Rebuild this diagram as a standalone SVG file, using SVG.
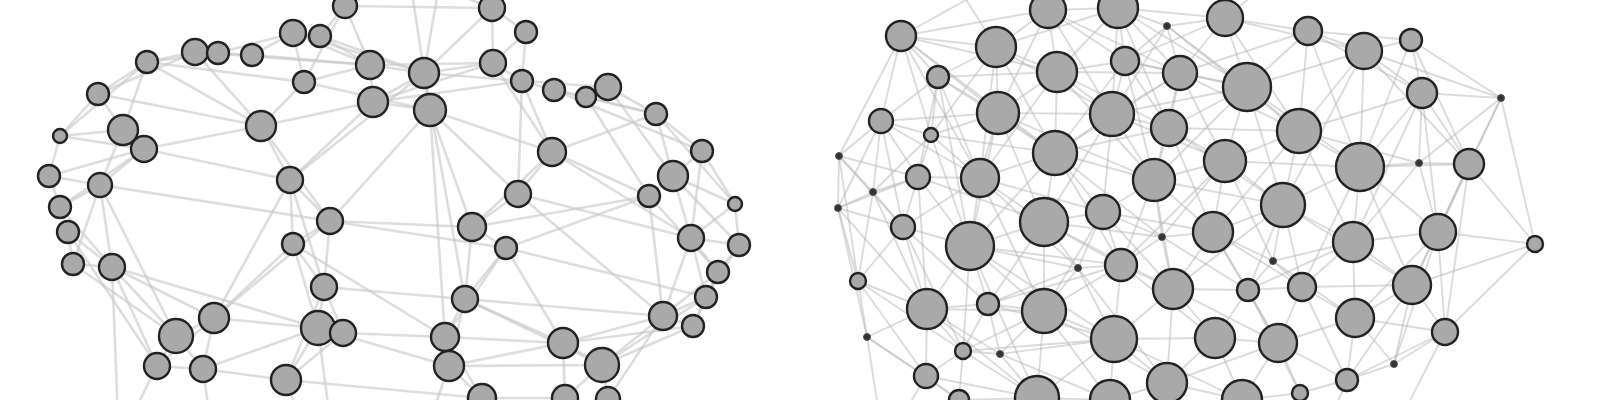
<svg xmlns="http://www.w3.org/2000/svg" width="1600" height="400" viewBox="0 0 1600 400">
<style>
.eL path{stroke:#c8c8c8;stroke-width:2.6;stroke-opacity:.62;fill:none}
.eR path{stroke:#b8b8b8;stroke-width:1.9;stroke-opacity:.5;fill:none}
.n{fill:#a9a9a9;stroke:#222;stroke-width:2.4}
.t{fill:#333;stroke:#555;stroke-width:1}
</style>
<rect width="1600" height="400" fill="#fff"/>
<g id="connectors">
<g class="eL">
<path d="M60 136L98 94"/><path d="M98 94L147 62"/><path d="M147 62L195 52"/><path d="M195 52L218 53"/><path d="M218 53L252 55"/><path d="M252 55L293 33"/><path d="M293 33L320 36"/><path d="M320 36L345 6"/><path d="M252 55L370 65"/><path d="M195 52L370 65"/><path d="M370 65L424 73"/><path d="M424 73L493 63"/><path d="M493 63L522 81"/><path d="M522 81L554 90"/><path d="M554 90L586 97"/><path d="M586 97L608 87"/><path d="M608 87L656 114"/><path d="M656 114L702 151"/><path d="M702 151L735 204"/><path d="M735 204L739 245"/><path d="M739 245L718 272"/><path d="M718 272L706 297"/><path d="M706 297L693 326"/><path d="M693 326L663 316"/><path d="M663 316L602 365"/><path d="M602 365L563 343"/><path d="M602 365L608 399"/><path d="M563 343L565 398"/><path d="M565 398L482 398"/><path d="M482 398L449 366"/><path d="M449 366L445 337"/><path d="M445 337L465 299"/><path d="M465 299L506 248"/><path d="M506 248L472 227"/><path d="M472 227L518 194"/><path d="M518 194L552 152"/><path d="M552 152L522 81"/><path d="M493 63L492 8"/><path d="M492 8L526 32"/><path d="M526 32L522 81"/><path d="M345 6L492 8"/><path d="M345 6L370 65"/><path d="M320 36L370 65"/><path d="M304 82L293 33"/><path d="M304 82L261 126"/><path d="M261 126L290 180"/><path d="M290 180L330 221"/><path d="M330 221L293 244"/><path d="M293 244L324 287"/><path d="M324 287L318 328"/><path d="M318 328L343 333"/><path d="M318 328L286 380"/><path d="M343 333L286 380"/><path d="M373 102L370 65"/><path d="M373 102L424 73"/><path d="M430 110L424 73"/><path d="M430 110L373 102"/><path d="M60 136L49 176"/><path d="M49 176L60 207"/><path d="M60 207L68 232"/><path d="M68 232L73 264"/><path d="M73 264L112 267"/><path d="M112 267L176 336"/><path d="M176 336L214 318"/><path d="M176 336L157 366"/><path d="M157 366L203 369"/><path d="M203 369L214 318"/><path d="M123 130L144 149"/><path d="M123 130L98 94"/><path d="M123 130L60 136"/><path d="M144 149L100 185"/><path d="M100 185L49 176"/><path d="M100 185L60 207"/><path d="M144 149L261 126"/><path d="M147 62L123 130"/><path d="M147 62L304 82"/><path d="M195 52L261 126"/><path d="M112 267L214 318"/><path d="M112 267L318 328"/><path d="M73 264L176 336"/><path d="M68 232L157 366"/><path d="M100 185L330 221"/><path d="M144 149L290 180"/><path d="M214 318L318 328"/><path d="M203 369L286 380"/><path d="M214 318L293 244"/><path d="M214 318L290 180"/><path d="M286 380L324 287"/><path d="M330 221L472 227"/><path d="M324 287L465 299"/><path d="M343 333L445 337"/><path d="M318 328L449 366"/><path d="M286 380L482 398"/><path d="M293 244L445 337"/><path d="M330 221L430 110"/><path d="M290 180L424 73"/><path d="M373 102L290 180"/><path d="M430 110L472 227"/><path d="M430 110L445 337"/><path d="M424 73L465 299"/><path d="M522 81L518 194"/><path d="M493 63L552 152"/><path d="M552 152L649 196"/><path d="M649 196L673 176"/><path d="M673 176L702 151"/><path d="M673 176L691 238"/><path d="M691 238L739 245"/><path d="M691 238L718 272"/><path d="M649 196L663 316"/><path d="M656 114L673 176"/><path d="M608 87L673 176"/><path d="M586 97L649 196"/><path d="M554 90L702 151"/><path d="M506 248L563 343"/><path d="M465 299L563 343"/><path d="M472 227L649 196"/><path d="M518 194L691 238"/><path d="M506 248L706 297"/><path d="M465 299L663 316"/><path d="M563 343L693 326"/><path d="M602 365L706 297"/><path d="M445 337L563 343"/><path d="M449 366L602 365"/><path d="M482 398L445 337"/><path d="M565 398L602 365"/><path d="M608 399L663 316"/><path d="M718 272L663 316"/><path d="M691 238L706 297"/><path d="M735 204L691 238"/><path d="M552 152L691 238"/><path d="M345 6L304 82"/><path d="M320 36L424 73"/><path d="M492 8L424 73"/><path d="M526 32L493 63"/><path d="M370 65L493 63"/><path d="M373 102L522 81"/><path d="M430 110L552 152"/><path d="M261 126L373 102"/><path d="M304 82L370 65"/><path d="M293 33L370 65"/><path d="M218 53L293 33"/><path d="M147 62L218 53"/><path d="M98 94L195 52"/><path d="M60 136L144 149"/><path d="M49 176L144 149"/><path d="M60 207L112 267"/><path d="M68 232L112 267"/><path d="M100 185L112 267"/><path d="M176 336L203 369"/><path d="M157 366L214 318"/><path d="M293 244L318 328"/><path d="M330 221L324 287"/><path d="M290 180L293 244"/><path d="M324 287L343 333"/><path d="M330 221L506 248"/><path d="M465 299L449 366"/><path d="M449 366L563 343"/><path d="M506 248L445 337"/><path d="M472 227L465 299"/><path d="M522 81L608 87"/><path d="M554 90L656 114"/><path d="M586 97L656 114"/><path d="M552 152L656 114"/><path d="M673 176L735 204"/><path d="M739 245L706 297"/><path d="M718 272L693 326"/><path d="M663 316L706 297"/><path d="M60 136L147 62"/><path d="M147 62L261 126"/><path d="M123 130L100 185"/>
<path d="M98 94L261 126"/><path d="M60 207L144 149"/><path d="M73 264L100 185"/><path d="M176 336L100 185"/><path d="M157 366L112 267"/><path d="M203 369L318 328"/><path d="M214 318L330 221"/><path d="M290 180L324 287"/><path d="M261 126L330 221"/><path d="M304 82L430 110"/><path d="M293 33L424 73"/><path d="M373 102L493 63"/><path d="M424 73L522 81"/><path d="M430 110L518 194"/><path d="M472 227L552 152"/><path d="M506 248L649 196"/><path d="M518 194L663 316"/><path d="M563 343L663 316"/><path d="M602 365L693 326"/><path d="M465 299L602 365"/><path d="M691 238L663 316"/><path d="M649 196L718 272"/><path d="M673 176L739 245"/><path d="M702 151L691 238"/><path d="M656 114L735 204"/>
<path d="M157 366L130 420"/><path d="M203 369L210 420"/><path d="M286 380L300 420"/><path d="M482 398L470 420"/><path d="M608 399L640 420"/><path d="M112 267L118 420"/><path d="M318 328L330 420"/><path d="M449 366L430 420"/><path d="M565 398L560 420"/><path d="M345 6L300 -20"/><path d="M345 6L400 -20"/><path d="M492 8L470 -20"/><path d="M492 8L420 -20"/><path d="M430 110L410 -20"/><path d="M424 73L440 -20"/>
</g>
<g class="eR">
<path d="M901 36L996 47"/><path d="M901 36L938 77"/><path d="M901 36L881 121"/><path d="M901 36L998 113"/><path d="M901 36L1048 10"/><path d="M901 36L839 156"/><path d="M901 36L931 135"/><path d="M901 36L1055 153"/>
<path d="M996 47L1048 10"/><path d="M996 47L1057 72"/><path d="M996 47L938 77"/><path d="M996 47L998 113"/><path d="M996 47L1118 8"/><path d="M996 47L1055 153"/><path d="M996 47L931 135"/><path d="M996 47L980 178"/>
<path d="M1048 10L1118 8"/><path d="M1048 10L1057 72"/><path d="M1048 10L1125 61"/><path d="M1048 10L998 113"/><path d="M1048 10L1112 114"/>
<path d="M1118 8L1167 26"/><path d="M1118 8L1125 61"/><path d="M1118 8L1225 18"/><path d="M1118 8L1180 73"/><path d="M1118 8L1057 72"/><path d="M1118 8L1112 114"/>
<path d="M1167 26L1225 18"/><path d="M1167 26L1180 73"/><path d="M1167 26L1125 61"/><path d="M1167 26L1112 114"/><path d="M1167 26L1247 87"/>
<path d="M938 77L881 121"/><path d="M938 77L931 135"/><path d="M938 77L998 113"/><path d="M938 77L918 177"/><path d="M938 77L980 178"/><path d="M938 77L1057 72"/>
<path d="M1057 72L1125 61"/><path d="M1057 72L998 113"/><path d="M1057 72L1112 114"/><path d="M1057 72L1055 153"/><path d="M1057 72L1180 73"/><path d="M1057 72L1154 180"/>
<path d="M1125 61L1180 73"/><path d="M1125 61L1112 114"/><path d="M1125 61L1169 128"/><path d="M1125 61L1225 18"/><path d="M1125 61L1055 153"/>
<path d="M1180 73L1225 18"/><path d="M1180 73L1169 128"/><path d="M1180 73L1247 87"/><path d="M1180 73L1112 114"/><path d="M1180 73L1154 180"/><path d="M1180 73L1299 131"/><path d="M1180 73L1308 31"/>
<path d="M881 121L839 156"/><path d="M881 121L931 135"/><path d="M881 121L918 177"/><path d="M881 121L873 192"/><path d="M881 121L998 113"/><path d="M881 121L903 227"/>
<path d="M931 135L918 177"/><path d="M931 135L980 178"/><path d="M931 135L998 113"/><path d="M931 135L873 192"/><path d="M931 135L970 246"/>
<path d="M998 113L1055 153"/><path d="M998 113L980 178"/><path d="M998 113L1112 114"/><path d="M998 113L1044 222"/><path d="M998 113L970 246"/>
<path d="M1112 114L1169 128"/><path d="M1112 114L1055 153"/><path d="M1112 114L1154 180"/><path d="M1112 114L1247 87"/><path d="M1112 114L1225 161"/><path d="M1112 114L1103 212"/>
<path d="M1169 128L1154 180"/><path d="M1169 128L1247 87"/><path d="M1169 128L1225 161"/><path d="M1169 128L1055 153"/><path d="M1169 128L1283 205"/><path d="M1169 128L1299 131"/>
<path d="M839 156L873 192"/><path d="M839 156L838 208"/><path d="M839 156L918 177"/><path d="M839 156L903 227"/>
<path d="M1055 153L980 178"/><path d="M1055 153L1154 180"/><path d="M1055 153L1044 222"/><path d="M1055 153L1103 212"/><path d="M1055 153L970 246"/><path d="M1055 153L1121 265"/>
<path d="M918 177L980 178"/><path d="M918 177L873 192"/><path d="M918 177L903 227"/><path d="M918 177L970 246"/><path d="M918 177L838 208"/>
<path d="M980 178L970 246"/><path d="M980 178L1044 222"/><path d="M980 178L903 227"/><path d="M980 178L1044 311"/><path d="M980 178L1103 212"/>
<path d="M1154 180L1225 161"/><path d="M1154 180L1103 212"/><path d="M1154 180L1162 237"/><path d="M1154 180L1213 232"/><path d="M1154 180L1283 205"/><path d="M1154 180L1121 265"/>
<path d="M873 192L838 208"/><path d="M873 192L903 227"/><path d="M873 192L858 281"/>
<path d="M1225 18L1308 31"/><path d="M1225 18L1247 87"/><path d="M1225 18L1299 131"/>
<path d="M1308 31L1364 51"/><path d="M1308 31L1247 87"/><path d="M1308 31L1299 131"/><path d="M1308 31L1411 40"/><path d="M1308 31L1360 167"/>
<path d="M1364 51L1411 40"/><path d="M1364 51L1422 93"/><path d="M1364 51L1299 131"/><path d="M1364 51L1360 167"/><path d="M1364 51L1247 87"/><path d="M1364 51L1469 164"/>
<path d="M1411 40L1422 93"/><path d="M1411 40L1501 98"/><path d="M1411 40L1469 164"/>
<path d="M1247 87L1299 131"/><path d="M1247 87L1225 161"/><path d="M1247 87L1283 205"/><path d="M1247 87L1360 167"/>
<path d="M1422 93L1501 98"/><path d="M1422 93L1360 167"/><path d="M1422 93L1469 164"/><path d="M1422 93L1419 163"/><path d="M1422 93L1438 232"/><path d="M1422 93L1299 131"/>
<path d="M1501 98L1469 164"/><path d="M1501 98L1535 244"/><path d="M1501 98L1438 232"/>
<path d="M1299 131L1360 167"/><path d="M1299 131L1225 161"/><path d="M1299 131L1283 205"/><path d="M1299 131L1353 242"/><path d="M1299 131L1419 163"/>
<path d="M1225 161L1283 205"/><path d="M1225 161L1213 232"/><path d="M1225 161L1360 167"/><path d="M1225 161L1273 261"/>
<path d="M1360 167L1419 163"/><path d="M1360 167L1469 164"/><path d="M1360 167L1353 242"/><path d="M1360 167L1438 232"/><path d="M1360 167L1283 205"/><path d="M1360 167L1412 285"/>
<path d="M1419 163L1469 164"/><path d="M1419 163L1438 232"/><path d="M1419 163L1353 242"/>
<path d="M1469 164L1438 232"/><path d="M1469 164L1535 244"/><path d="M1469 164L1412 285"/>
<path d="M1283 205L1213 232"/><path d="M1283 205L1353 242"/><path d="M1283 205L1273 261"/><path d="M1283 205L1302 287"/><path d="M1283 205L1248 290"/>
<path d="M838 208L903 227"/><path d="M838 208L858 281"/><path d="M838 208L867 337"/>
<path d="M903 227L970 246"/><path d="M903 227L858 281"/><path d="M903 227L927 309"/><path d="M903 227L988 304"/>
<path d="M970 246L1044 222"/><path d="M970 246L927 309"/><path d="M970 246L988 304"/><path d="M970 246L1044 311"/><path d="M970 246L1114 339"/><path d="M970 246L963 351"/><path d="M970 246L1078 268"/>
<path d="M1044 222L1103 212"/><path d="M1044 222L1078 268"/><path d="M1044 222L1121 265"/><path d="M1044 222L1044 311"/><path d="M1044 222L1162 237"/><path d="M1044 222L988 304"/>
<path d="M1103 212L1162 237"/><path d="M1103 212L1121 265"/><path d="M1103 212L1213 232"/><path d="M1103 212L1078 268"/><path d="M1103 212L1173 289"/>
<path d="M1162 237L1121 265"/><path d="M1162 237L1173 289"/><path d="M1162 237L1213 232"/>
<path d="M1078 268L1121 265"/><path d="M1078 268L1044 311"/><path d="M1078 268L1114 339"/><path d="M1078 268L988 304"/>
<path d="M1121 265L1173 289"/><path d="M1121 265L1114 339"/><path d="M1121 265L1044 311"/>
<path d="M1173 289L1114 339"/><path d="M1173 289L1213 232"/><path d="M1173 289L1248 290"/><path d="M1173 289L1215 338"/><path d="M1173 289L1278 343"/><path d="M1173 289L1167 383"/>
<path d="M858 281L927 309"/><path d="M858 281L867 337"/><path d="M858 281L926 376"/>
<path d="M927 309L988 304"/><path d="M927 309L867 337"/><path d="M927 309L963 351"/><path d="M927 309L926 376"/><path d="M927 309L1044 311"/><path d="M927 309L1037 398"/>
<path d="M988 304L1044 311"/><path d="M988 304L963 351"/><path d="M988 304L1000 354"/><path d="M988 304L1114 339"/>
<path d="M1044 311L1114 339"/><path d="M1044 311L1000 354"/><path d="M1044 311L1037 398"/><path d="M1044 311L963 351"/><path d="M1044 311L1167 383"/><path d="M1044 311L1110 400"/>
<path d="M1114 339L1167 383"/><path d="M1114 339L1110 400"/><path d="M1114 339L1215 338"/><path d="M1114 339L1037 398"/>
<path d="M867 337L926 376"/><path d="M867 337L959 400"/>
<path d="M963 351L1000 354"/><path d="M963 351L926 376"/><path d="M963 351L959 400"/><path d="M963 351L1037 398"/>
<path d="M1000 354L1037 398"/><path d="M1000 354L1114 339"/><path d="M926 376L959 400"/>
<path d="M1167 383L1110 400"/><path d="M1167 383L1215 338"/><path d="M1167 383L1242 400"/><path d="M1167 383L1278 343"/>
<path d="M1037 398L1110 400"/><path d="M1037 398L959 400"/>
<path d="M1213 232L1273 261"/><path d="M1213 232L1248 290"/><path d="M1213 232L1302 287"/>
<path d="M1353 242L1438 232"/><path d="M1353 242L1302 287"/><path d="M1353 242L1412 285"/><path d="M1353 242L1355 318"/><path d="M1353 242L1273 261"/>
<path d="M1438 232L1535 244"/><path d="M1438 232L1412 285"/><path d="M1438 232L1445 332"/>
<path d="M1535 244L1412 285"/><path d="M1535 244L1445 332"/>
<path d="M1273 261L1248 290"/><path d="M1273 261L1302 287"/>
<path d="M1248 290L1302 287"/><path d="M1248 290L1215 338"/><path d="M1248 290L1278 343"/>
<path d="M1302 287L1355 318"/><path d="M1302 287L1278 343"/><path d="M1302 287L1412 285"/>
<path d="M1412 285L1355 318"/><path d="M1412 285L1445 332"/><path d="M1412 285L1394 364"/>
<path d="M1355 318L1278 343"/><path d="M1355 318L1445 332"/><path d="M1355 318L1394 364"/><path d="M1355 318L1347 380"/>
<path d="M1215 338L1278 343"/><path d="M1215 338L1242 400"/>
<path d="M1278 343L1347 380"/><path d="M1278 343L1300 393"/><path d="M1278 343L1242 400"/>
<path d="M1445 332L1394 364"/><path d="M1445 332L1347 380"/><path d="M1445 332L1400 420"/>
<path d="M1394 364L1347 380"/><path d="M1347 380L1300 393"/><path d="M1300 393L1242 400"/>
<path d="M901 36L1057 72"/><path d="M938 77L1055 153"/><path d="M881 121L980 178"/><path d="M931 135L1055 153"/><path d="M998 113L1154 180"/><path d="M1057 72L1169 128"/><path d="M1125 61L1247 87"/><path d="M1118 8L1169 128"/><path d="M1048 10L1180 73"/><path d="M1180 73L1225 161"/><path d="M1169 128L1213 232"/><path d="M1112 114L1044 222"/><path d="M1055 153L1162 237"/><path d="M980 178L1078 268"/><path d="M918 177L927 309"/><path d="M903 227L963 351"/><path d="M970 246L1121 265"/><path d="M1044 222L1173 289"/><path d="M1103 212L1044 311"/><path d="M1154 180L1173 289"/><path d="M1225 161L1162 237"/><path d="M1283 205L1173 289"/><path d="M1299 131L1213 232"/><path d="M1360 167L1302 287"/><path d="M1353 242L1248 290"/><path d="M1438 232L1355 318"/><path d="M1302 287L1347 380"/><path d="M1248 290L1300 393"/><path d="M1114 339L1242 400"/><path d="M988 304L1121 265"/><path d="M963 351L1114 339"/><path d="M926 376L1037 398"/><path d="M858 281L963 351"/><path d="M838 208L927 309"/><path d="M839 156L858 281"/><path d="M881 121L838 208"/><path d="M873 192L927 309"/><path d="M1308 31L1422 93"/><path d="M1364 51L1501 98"/><path d="M1411 40L1360 167"/><path d="M1422 93L1353 242"/><path d="M1469 164L1445 332"/><path d="M1501 98L1419 163"/><path d="M1438 232L1394 364"/><path d="M1412 285L1347 380"/><path d="M1364 51L1283 205"/><path d="M1225 18L1364 51"/><path d="M1167 26L1299 131"/><path d="M1118 8L1247 87"/><path d="M996 47L1112 114"/><path d="M901 36L980 178"/><path d="M938 77L970 246"/><path d="M1057 72L980 178"/><path d="M1125 61L1154 180"/><path d="M1180 73L1055 153"/><path d="M1247 87L1154 180"/><path d="M1225 161L1121 265"/><path d="M1283 205L1412 285"/><path d="M1273 261L1355 318"/><path d="M1213 232L1278 343"/><path d="M1162 237L1248 290"/><path d="M1121 265L1215 338"/><path d="M1078 268L1167 383"/><path d="M1000 354L1110 400"/><path d="M970 246L1037 398"/><path d="M927 309L1000 354"/><path d="M918 177L1044 222"/>
<path d="M1347 380L1330 420"/><path d="M1242 400L1200 420"/><path d="M1110 400L1100 420"/><path d="M959 400L940 420"/><path d="M926 376L900 420"/><path d="M1037 398L1050 420"/><path d="M867 337L880 420"/>
<path d="M1048 10L1030 -10"/><path d="M1118 8L1100 -10"/><path d="M996 47L960 -10"/><path d="M1225 18L1260 -10"/><path d="M901 36L975 -5"/>
</g>
</g>
<g id="L1"><circle class="n" cx="345" cy="6" r="12"/></g>
<g id="L2"><circle class="n" cx="293" cy="33" r="13"/></g>
<g id="L3"><circle class="n" cx="320" cy="36" r="11"/></g>
<g id="L4"><circle class="n" cx="195" cy="52" r="13"/></g>
<g id="L5"><circle class="n" cx="218" cy="53" r="11"/></g>
<g id="L6"><circle class="n" cx="252" cy="55" r="11"/></g>
<g id="L7"><circle class="n" cx="147" cy="62" r="11"/></g>
<g id="L8"><circle class="n" cx="370" cy="65" r="14"/></g>
<g id="L9"><circle class="n" cx="304" cy="82" r="11"/></g>
<g id="L10"><circle class="n" cx="373" cy="102" r="15"/></g>
<g id="L11"><circle class="n" cx="98" cy="94" r="11"/></g>
<g id="L12"><circle class="n" cx="123" cy="130" r="15"/></g>
<g id="L13"><circle class="n" cx="261" cy="126" r="15"/></g>
<g id="L14"><circle class="n" cx="144" cy="149" r="13"/></g>
<g id="L15"><circle class="n" cx="60" cy="136" r="7"/></g>
<g id="L16"><circle class="n" cx="49" cy="176" r="11"/></g>
<g id="L17"><circle class="n" cx="100" cy="185" r="12"/></g>
<g id="L18"><circle class="n" cx="290" cy="180" r="13"/></g>
<g id="L19"><circle class="n" cx="492" cy="8" r="13"/></g>
<g id="L20"><circle class="n" cx="526" cy="32" r="11"/></g>
<g id="L21"><circle class="n" cx="493" cy="63" r="13"/></g>
<g id="L22"><circle class="n" cx="424" cy="73" r="15"/></g>
<g id="L23"><circle class="n" cx="522" cy="81" r="11"/></g>
<g id="L24"><circle class="n" cx="430" cy="110" r="16"/></g>
<g id="L25"><circle class="n" cx="554" cy="90" r="11"/></g>
<g id="L26"><circle class="n" cx="586" cy="97" r="10"/></g>
<g id="L27"><circle class="n" cx="608" cy="87" r="13"/></g>
<g id="L28"><circle class="n" cx="656" cy="114" r="11"/></g>
<g id="L29"><circle class="n" cx="552" cy="152" r="14"/></g>
<g id="L30"><circle class="n" cx="702" cy="151" r="11"/></g>
<g id="L31"><circle class="n" cx="673" cy="176" r="15"/></g>
<g id="L32"><circle class="n" cx="649" cy="196" r="11"/></g>
<g id="L33"><circle class="n" cx="518" cy="194" r="13"/></g>
<g id="L34"><circle class="n" cx="735" cy="204" r="7"/></g>
<g id="L35"><circle class="n" cx="60" cy="207" r="11"/></g>
<g id="L36"><circle class="n" cx="68" cy="232" r="11"/></g>
<g id="L37"><circle class="n" cx="73" cy="264" r="11"/></g>
<g id="L38"><circle class="n" cx="112" cy="267" r="13"/></g>
<g id="L39"><circle class="n" cx="330" cy="221" r="13"/></g>
<g id="L40"><circle class="n" cx="293" cy="244" r="11"/></g>
<g id="L41"><circle class="n" cx="324" cy="287" r="13"/></g>
<g id="L42"><circle class="n" cx="176" cy="336" r="17"/></g>
<g id="L43"><circle class="n" cx="214" cy="318" r="15"/></g>
<g id="L44"><circle class="n" cx="318" cy="328" r="17"/></g>
<g id="L45"><circle class="n" cx="343" cy="333" r="13"/></g>
<g id="L46"><circle class="n" cx="157" cy="366" r="13"/></g>
<g id="L47"><circle class="n" cx="203" cy="369" r="13"/></g>
<g id="L48"><circle class="n" cx="286" cy="380" r="15"/></g>
<g id="L49"><circle class="n" cx="472" cy="227" r="14"/></g>
<g id="L50"><circle class="n" cx="506" cy="248" r="11"/></g>
<g id="L51"><circle class="n" cx="691" cy="238" r="13"/></g>
<g id="L52"><circle class="n" cx="739" cy="245" r="11"/></g>
<g id="L53"><circle class="n" cx="718" cy="272" r="11"/></g>
<g id="L54"><circle class="n" cx="706" cy="297" r="11"/></g>
<g id="L55"><circle class="n" cx="465" cy="299" r="13"/></g>
<g id="L56"><circle class="n" cx="663" cy="316" r="14"/></g>
<g id="L57"><circle class="n" cx="693" cy="326" r="11"/></g>
<g id="L58"><circle class="n" cx="445" cy="337" r="14"/></g>
<g id="L59"><circle class="n" cx="449" cy="366" r="15"/></g>
<g id="L60"><circle class="n" cx="563" cy="343" r="15"/></g>
<g id="L61"><circle class="n" cx="602" cy="365" r="17"/></g>
<g id="L62"><circle class="n" cx="482" cy="398" r="14"/></g>
<g id="L63"><circle class="n" cx="565" cy="398" r="13"/></g>
<g id="L64"><circle class="n" cx="608" cy="399" r="12"/></g>
<g id="R1"><circle class="n" cx="1048" cy="10" r="18"/></g>
<g id="R2"><circle class="n" cx="1118" cy="8" r="20"/></g>
<g id="R3"><circle class="t" cx="1167" cy="26" r="3.5"/></g>
<g id="R4"><circle class="n" cx="901" cy="36" r="15"/></g>
<g id="R5"><circle class="n" cx="996" cy="47" r="20"/></g>
<g id="R6"><circle class="n" cx="938" cy="77" r="11"/></g>
<g id="R7"><circle class="n" cx="1057" cy="72" r="20"/></g>
<g id="R8"><circle class="n" cx="1125" cy="61" r="14"/></g>
<g id="R9"><circle class="n" cx="1180" cy="73" r="17"/></g>
<g id="R10"><circle class="n" cx="881" cy="121" r="12"/></g>
<g id="R11"><circle class="n" cx="931" cy="135" r="7"/></g>
<g id="R12"><circle class="n" cx="998" cy="113" r="21"/></g>
<g id="R13"><circle class="n" cx="1112" cy="114" r="22"/></g>
<g id="R14"><circle class="n" cx="1169" cy="128" r="18"/></g>
<g id="R15"><circle class="t" cx="839" cy="156" r="3.5"/></g>
<g id="R16"><circle class="n" cx="1055" cy="153" r="22"/></g>
<g id="R17"><circle class="n" cx="918" cy="177" r="12"/></g>
<g id="R18"><circle class="n" cx="980" cy="178" r="19"/></g>
<g id="R19"><circle class="n" cx="1154" cy="180" r="21"/></g>
<g id="R20"><circle class="t" cx="873" cy="192" r="3.5"/></g>
<g id="R21"><circle class="n" cx="1225" cy="18" r="18"/></g>
<g id="R22"><circle class="n" cx="1308" cy="31" r="14"/></g>
<g id="R23"><circle class="n" cx="1364" cy="51" r="18"/></g>
<g id="R24"><circle class="n" cx="1411" cy="40" r="11"/></g>
<g id="R25"><circle class="n" cx="1247" cy="87" r="24"/></g>
<g id="R26"><circle class="n" cx="1422" cy="93" r="15"/></g>
<g id="R27"><circle class="t" cx="1501" cy="98" r="3.5"/></g>
<g id="R28"><circle class="n" cx="1299" cy="131" r="22"/></g>
<g id="R29"><circle class="n" cx="1225" cy="161" r="21"/></g>
<g id="R30"><circle class="n" cx="1360" cy="167" r="24"/></g>
<g id="R31"><circle class="t" cx="1419" cy="163" r="3.5"/></g>
<g id="R32"><circle class="n" cx="1469" cy="164" r="15"/></g>
<g id="R33"><circle class="n" cx="1283" cy="205" r="22"/></g>
<g id="R34"><circle class="t" cx="838" cy="208" r="3.5"/></g>
<g id="R35"><circle class="n" cx="903" cy="227" r="12"/></g>
<g id="R36"><circle class="n" cx="970" cy="246" r="24"/></g>
<g id="R37"><circle class="n" cx="1044" cy="222" r="24"/></g>
<g id="R38"><circle class="n" cx="1103" cy="212" r="17"/></g>
<g id="R39"><circle class="t" cx="1162" cy="237" r="3.5"/></g>
<g id="R40"><circle class="t" cx="1078" cy="268" r="3.5"/></g>
<g id="R41"><circle class="n" cx="1121" cy="265" r="16"/></g>
<g id="R42"><circle class="n" cx="1173" cy="289" r="20"/></g>
<g id="R43"><circle class="n" cx="858" cy="281" r="8"/></g>
<g id="R44"><circle class="n" cx="927" cy="309" r="20"/></g>
<g id="R45"><circle class="n" cx="988" cy="304" r="11"/></g>
<g id="R46"><circle class="n" cx="1044" cy="311" r="22"/></g>
<g id="R47"><circle class="n" cx="1114" cy="339" r="23"/></g>
<g id="R48"><circle class="t" cx="867" cy="337" r="3.5"/></g>
<g id="R49"><circle class="n" cx="963" cy="351" r="8"/></g>
<g id="R50"><circle class="t" cx="1000" cy="354" r="3.5"/></g>
<g id="R51"><circle class="n" cx="926" cy="376" r="12"/></g>
<g id="R52"><circle class="n" cx="1167" cy="383" r="20"/></g>
<g id="R53"><circle class="n" cx="1037" cy="398" r="22"/></g>
<g id="R54"><circle class="n" cx="1110" cy="400" r="20"/></g>
<g id="R55"><circle class="n" cx="959" cy="400" r="10"/></g>
<g id="R56"><circle class="n" cx="1213" cy="232" r="20"/></g>
<g id="R57"><circle class="n" cx="1353" cy="242" r="20"/></g>
<g id="R58"><circle class="n" cx="1438" cy="232" r="18"/></g>
<g id="R59"><circle class="n" cx="1535" cy="244" r="8"/></g>
<g id="R60"><circle class="t" cx="1273" cy="261" r="3.5"/></g>
<g id="R61"><circle class="n" cx="1248" cy="290" r="11"/></g>
<g id="R62"><circle class="n" cx="1302" cy="287" r="14"/></g>
<g id="R63"><circle class="n" cx="1412" cy="285" r="19"/></g>
<g id="R64"><circle class="n" cx="1355" cy="318" r="19"/></g>
<g id="R65"><circle class="n" cx="1215" cy="338" r="20"/></g>
<g id="R66"><circle class="n" cx="1278" cy="343" r="19"/></g>
<g id="R67"><circle class="n" cx="1445" cy="332" r="13"/></g>
<g id="R68"><circle class="t" cx="1394" cy="364" r="3.5"/></g>
<g id="R69"><circle class="n" cx="1347" cy="380" r="11"/></g>
<g id="R70"><circle class="n" cx="1300" cy="393" r="8"/></g>
<g id="R71"><circle class="n" cx="1242" cy="400" r="20"/></g>
</svg>
